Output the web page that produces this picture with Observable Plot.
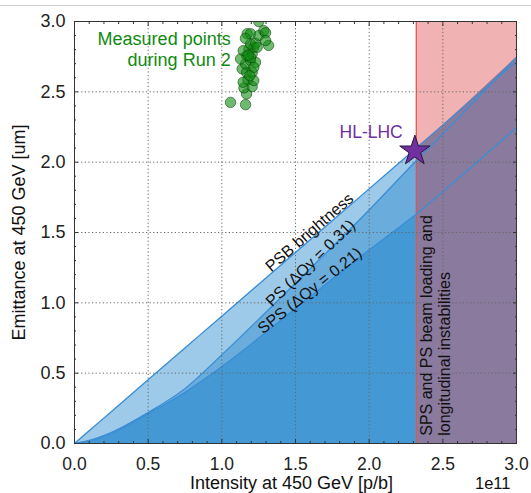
<!DOCTYPE html>
<html><head><meta charset="utf-8">
<script src="https://cdn.jsdelivr.net/npm/d3@7"></script>
<script src="https://cdn.jsdelivr.net/npm/@observablehq/plot@0.6"></script>
<style>
body{margin:0;background:#fff;}
#chart{position:absolute;left:0;top:0;}
#topline{position:absolute;left:0;top:5px;width:531px;height:0;border-top:1px solid #cfcfcf;}
</style></head><body>
<div id="chart"></div>
<div id="topline"></div>
<script>
// ---- data ----
const intensity = [0, 0.1, 0.25, 0.5, 0.75, 1.0, 1.5, 2.0, 2.32, 2.5, 3.0];
const psbBrightness = [0, 0.0905, 0.226, 0.453, 0.679, 0.905, 1.358, 1.81, 2.10, 2.263, 2.715];
const psLimit = [0, 0.022, 0.078, 0.22, 0.39, 0.63, 1.14, 1.66, 2.01, 2.20, 2.745];
const spsLimit = [0, 0.018, 0.068, 0.21, 0.363, 0.545, 0.96, 1.375, 1.63, 1.79, 2.245];
const instabilityLimit = 2.32;
const axisMax = 3.0;

const measuredX = [1.059, 1.161, 1.168, 1.150, 1.177, 1.145, 1.206, 1.217, 1.138, 1.168, 1.206, 1.161, 1.195, 1.229, 1.168, 1.206, 1.184, 1.217, 1.195, 1.229, 1.172, 1.195, 1.251, 1.285, 1.251, 1.127, 1.145, 1.195, 1.217, 1.190, 1.240, 1.297, 1.317, 1.297, 1.160, 1.180];
const measuredY = [2.425, 2.409, 2.485, 2.528, 2.585, 2.568, 2.537, 2.580, 2.663, 2.639, 2.639, 2.698, 2.722, 2.710, 2.757, 2.770, 2.805, 2.817, 2.840, 2.845, 2.913, 2.913, 2.900, 2.935, 3.000, 2.734, 2.793, 2.745, 2.674, 2.615, 2.817, 2.920, 2.830, 2.865, 2.880, 2.760];

const hlLhcX = [2.31];
const hlLhcY = [2.08];

const majorTicks = [0, 0.5, 1.0, 1.5, 2.0, 2.5, 3.0];
const minorTicks = [0.1,0.2,0.3,0.4,0.6,0.7,0.8,0.9,1.1,1.2,1.3,1.4,1.6,1.7,1.8,1.9,2.1,2.2,2.3,2.4,2.6,2.7,2.8,2.9];
const gridTicks = [0.5, 1.0, 1.5, 2.0, 2.5];

const lineLabels = ["PSB brightness", "PS (\u0394Qy = 0.31)", "SPS (\u0394Qy = 0.21)"];
const xLabel = "Intensity at 450 GeV [p/b]";
const yLabel = "Emittance at 450 GeV [um]";
const scaleLabel = "1e11";
const hlLabel = "HL-LHC";
const measuredLabel = "Measured points\nduring Run 2";
const regionLabel = "SPS and PS beam loading and\nlongitudinal instabilities";

// ---- tables ----
const rows = intensity.map((x, i) => ({x, psb: psbBrightness[i], ps: psLimit[i], sps: spsLimit[i]}));
const leftRows = rows.filter(d => d.x <= instabilityLimit);
const rightRows = rows.filter(d => d.x >= instabilityLimit).map(d => ({x: d.x, top: Math.max(d.psb, d.ps)}));
const measured = measuredX.map((x, i) => ({x, y: measuredY[i]}));
const labelPlacement = [
  {x: 1.595, y: 1.50, rotate: -41},
  {x: 1.602, y: 1.282, rotate: -44},
  {x: 1.597, y: 1.086, rotate: -38.5}
];
const lineLabelRows = lineLabels.map((t, i) => ({text: t, ...labelPlacement[i]}));

const font = "Liberation Sans, Arial, Helvetica, sans-serif";
const curve = "monotone-x";
const blueLine = "#3b8ed5";

const tickAxes = [];
for (const anchor of ["bottom", "top"]) {
  tickAxes.push(Plot.axisX({anchor, ticks: majorTicks, tickSize: -4, tickFormat: () => "", label: null, stroke: "#333"}));
  tickAxes.push(Plot.axisX({anchor, ticks: minorTicks, tickSize: -2, tickFormat: () => "", label: null, stroke: "#333"}));
}
for (const anchor of ["left", "right"]) {
  tickAxes.push(Plot.axisY({anchor, ticks: majorTicks, tickSize: -4, tickFormat: () => "", label: null, stroke: "#333"}));
  tickAxes.push(Plot.axisY({anchor, ticks: minorTicks, tickSize: -2, tickFormat: () => "", label: null, stroke: "#333"}));
}

const chart = Plot.plot({
  width: 531,
  height: 493,
  marginLeft: 74,
  marginRight: 15,
  marginTop: 21,
  marginBottom: 50,
  style: {fontFamily: font, fontSize: "17px", background: "white", color: "#222"},
  x: {domain: [0, axisMax]},
  y: {domain: [0, axisMax]},
  marks: [
    // blue regions
    Plot.areaY(leftRows, {x: "x", y1: 0, y2: "psb", fill: "#9ecae9", curve}),
    Plot.areaY(leftRows, {x: "x", y1: 0, y2: "ps", fill: "#6aaddc", curve}),
    Plot.areaY(leftRows, {x: "x", y1: 0, y2: "sps", fill: "#4499d5", curve}),
    Plot.areaY(rightRows, {x: "x", y1: 0, y2: "top", fill: "#55a2de", curve}),
    // instability region
    Plot.rect([{x1: instabilityLimit, x2: axisMax, y1: 0, y2: axisMax}], {x1: "x1", x2: "x2", y1: "y1", y2: "y2", fill: "#d93f3f", fillOpacity: 0.4}),
    Plot.ruleX([instabilityLimit], {stroke: "#dd5555", strokeWidth: 1.2}),
    // limit lines
    Plot.line(rows, {x: "x", y: "psb", stroke: blueLine, strokeWidth: 1.2, curve}),
    Plot.line(rows, {x: "x", y: "ps", stroke: blueLine, strokeWidth: 1.2, curve}),
    Plot.line(rows, {x: "x", y: "sps", stroke: blueLine, strokeWidth: 1.2, curve}),
    // grid
    Plot.gridX({ticks: gridTicks, stroke: "#666", strokeOpacity: 1, strokeDasharray: "1.2,2.4"}),
    Plot.gridY({ticks: gridTicks, stroke: "#666", strokeOpacity: 1, strokeDasharray: "1.2,2.4"}),
    // measured points
    Plot.dot(measured, {x: "x", y: "y", r: 5.2, fill: "#108a10", fillOpacity: 0.6, stroke: "#0a4a0a", strokeOpacity: 0.6, strokeWidth: 1, clip: true}),
    // HL-LHC star
    Plot.dot(hlLhcX.map((x, i) => ({x, y: hlLhcY[i]})), {x: "x", y: "y", symbol: "star", r: 9.5, fill: "#7030a0", stroke: "#2a1640", strokeWidth: 1}),
    // texts
    Plot.text(lineLabelRows, {x: "x", y: "y", text: "text", rotate: "rotate", fontSize: 16, fill: "#111"}),
    Plot.text([hlLabel], {x: () => 2.228, y: () => 2.215, text: d => d, textAnchor: "end", fontSize: 17.5, fill: "#7030a0"}),
    Plot.text([measuredLabel], {x: () => 1.06, y: () => 2.94, text: d => d, textAnchor: "end", lineAnchor: "top", lineHeight: 1.17, fontSize: 18, fill: "#0f8a0f"}),
    Plot.text([regionLabel], {x: () => 2.335, y: () => 0.055, text: d => d, rotate: -90, textAnchor: "start", lineAnchor: "top", lineHeight: 1.15, fontSize: 16, fill: "#111"}),
    // frame and axes
    Plot.frame({stroke: "#333", strokeWidth: 1}),
    ...tickAxes,
    Plot.axisX({anchor: "bottom", ticks: majorTicks, tickSize: 0, tickPadding: 14, tickFormat: d => d.toFixed(1), label: null, fontSize: 17.5}),
    Plot.axisY({anchor: "left", ticks: majorTicks, tickSize: 0, tickPadding: 9, tickFormat: d => d.toFixed(1), label: null, fontSize: 18}),
    Plot.text([xLabel], {frameAnchor: "bottom", text: d => d, dx: -4, dy: 33, textAnchor: "middle", lineAnchor: "top", fontSize: 18, fill: "#111"}),
    Plot.text([yLabel], {frameAnchor: "left", text: d => d, dx: -55.5, rotate: -90, textAnchor: "middle", lineAnchor: "middle", fontSize: 18, fill: "#111"}),
    Plot.text([scaleLabel], {frameAnchor: "bottom-right", text: d => d, dx: -6, dy: 34, textAnchor: "end", lineAnchor: "top", fontSize: 16.5, fill: "#111"})
  ]
});
document.getElementById("chart").appendChild(chart);
</script>
</body></html>
